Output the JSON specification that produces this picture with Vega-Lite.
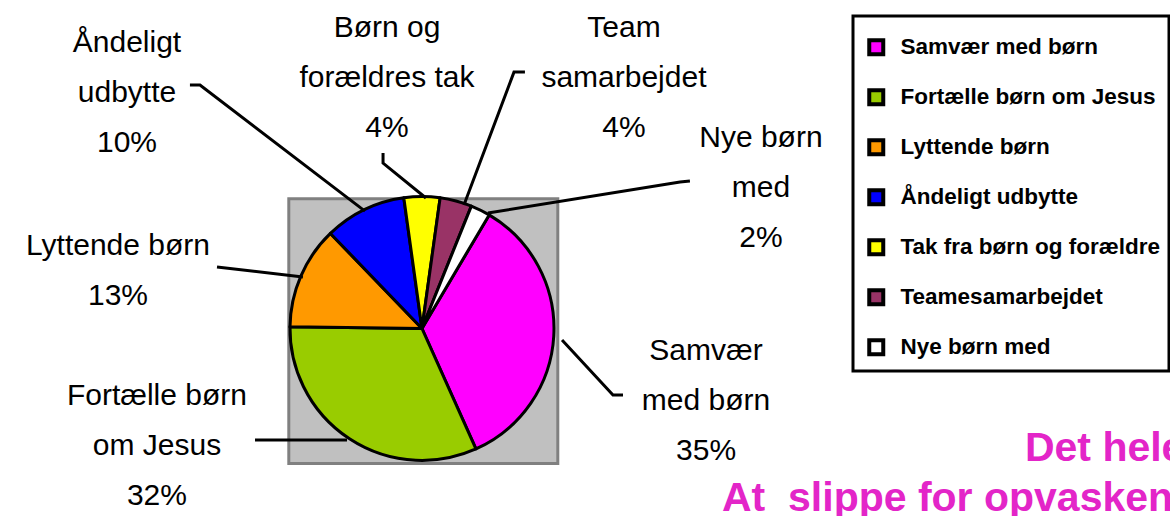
{
  "$schema": "https://vega.github.io/schema/vega-lite/v6.json",
  "autosize": "none",
  "width": 269,
  "height": 264.7,
  "padding": {"left": 288.8, "top": 198.8, "right": 612.2, "bottom": 52.5},
  "background": "white",
  "config": {
    "view": {"fill": "#C0C0C0", "stroke": "#808080", "strokeWidth": 3},
    "text": {"font": "Liberation Sans"}
  },
  "datasets": {
    "slices": [
      {"idx": 1, "category": "Samvær med børn", "share": 34.8},
      {"idx": 2, "category": "Fortælle børn om Jesus", "share": 31.9},
      {"idx": 3, "category": "Lyttende børn", "share": 12.6},
      {"idx": 4, "category": "Åndeligt udbytte", "share": 10.0},
      {"idx": 5, "category": "Tak fra børn og forældre", "share": 4.4},
      {"idx": 6, "category": "Teamesamarbejdet", "share": 3.9},
      {"idx": 7, "category": "Nye børn med", "share": 2.4}
    ],
    "labels": [
      {"text": "Samvær\nmed børn\n35%", "lx": 2.152, "ly": -0.239},
      {"text": "Fortælle børn\nom Jesus\n32%", "lx": -2.008, "ly": -0.580},
      {"text": "Lyttende børn\n13%", "lx": -2.303, "ly": 0.557},
      {"text": "Åndeligt\nudbytte\n10%", "lx": -2.235, "ly": 2.095},
      {"text": "Børn og\nforældres tak\n4%", "lx": -0.265, "ly": 2.208},
      {"text": "Team\nsamarbejdet\n4%", "lx": 1.530, "ly": 2.208},
      {"text": "Nye børn\nmed\n2%", "lx": 2.568, "ly": 1.375}
    ],
    "leaders": [
      {"leader": "Samvær", "pt": 1, "lx": 1.523, "ly": -0.504},
      {"leader": "Samvær", "pt": 2, "lx": 1.447, "ly": -0.504},
      {"leader": "Samvær", "pt": 3, "lx": 1.061, "ly": -0.087},
      {"leader": "Fortælle", "pt": 1, "lx": -1.265, "ly": -0.845},
      {"leader": "Fortælle", "pt": 2, "lx": -0.568, "ly": -0.845},
      {"leader": "Lyttende", "pt": 1, "lx": -1.553, "ly": 0.466},
      {"leader": "Lyttende", "pt": 2, "lx": -0.902, "ly": 0.390},
      {"leader": "Åndeligt", "pt": 1, "lx": -1.758, "ly": 1.845},
      {"leader": "Åndeligt", "pt": 2, "lx": -1.682, "ly": 1.845},
      {"leader": "Åndeligt", "pt": 3, "lx": -0.432, "ly": 0.890},
      {"leader": "Tak", "pt": 1, "lx": -0.295, "ly": 1.330},
      {"leader": "Tak", "pt": 2, "lx": -0.295, "ly": 1.254},
      {"leader": "Tak", "pt": 3, "lx": 0.030, "ly": 0.989},
      {"leader": "Team", "pt": 1, "lx": 0.780, "ly": 1.943},
      {"leader": "Team", "pt": 2, "lx": 0.697, "ly": 1.943},
      {"leader": "Team", "pt": 3, "lx": 0.318, "ly": 0.936},
      {"leader": "Nye", "pt": 1, "lx": 2.030, "ly": 1.117},
      {"leader": "Nye", "pt": 2, "lx": 1.955, "ly": 1.110},
      {"leader": "Nye", "pt": 3, "lx": 0.500, "ly": 0.875}
    ],
    "notes": [
      {"text": "Det hele", "lx": 4.568, "ly": -1.004},
      {"text": "At\u00a0 slippe for opvasken", "lx": 2.273, "ly": -1.383}
    ]
  },
  "layer": [
    {
      "data": {"name": "slices"},
      "mark": {"type": "arc", "radius": 132, "stroke": "black", "strokeWidth": 3, "strokeJoin": "round"},
      "encoding": {
        "x": {"datum": 0, "type": "quantitative", "scale": {"domain": [-1.009, 1.029], "nice": false, "zero": false}, "axis": null},
        "y": {"datum": 0, "type": "quantitative", "scale": {"domain": [-1.023, 0.983], "nice": false, "zero": false}, "axis": null},
        "theta": {"field": "share", "type": "quantitative", "stack": true, "scale": {"range": [0.534, 6.8172]}},
        "order": {"field": "idx", "type": "quantitative"},
        "color": {
          "field": "category",
          "type": "nominal",
          "sort": ["Samvær med børn", "Fortælle børn om Jesus", "Lyttende børn", "Åndeligt udbytte", "Tak fra børn og forældre", "Teamesamarbejdet", "Nye børn med"],
          "scale": {
            "domain": ["Samvær med børn", "Fortælle børn om Jesus", "Lyttende børn", "Åndeligt udbytte", "Tak fra børn og forældre", "Teamesamarbejdet", "Nye børn med"],
            "range": ["#FF00FF", "#99CC00", "#FF9900", "#0000FF", "#FFFF00", "#993366", "#FFFFFF"]
          },
          "legend": {
            "orient": "none",
            "legendX": 564.2,
            "legendY": -182.8,
            "title": " ",
            "titleFontSize": 8,
            "titlePadding": 4,
            "padding": 8,
            "fillColor": "white",
            "strokeColor": "black",
            "rowPadding": 19,
            "labelFont": "Liberation Sans",
            "labelFontSize": 22.5,
            "labelFontWeight": "bold",
            "labelColor": "black",
            "labelOffset": 13,
            "labelLimit": 500,
            "symbolType": "square",
            "symbolSize": 196,
            "symbolOffset": 4,
            "symbolStrokeColor": "black",
            "symbolStrokeWidth": 4,
            "symbolOpacity": 1,
            "encode": {"legend": {"update": {"stroke": {"value": "black"}, "strokeWidth": {"value": 3}}}}
          }
        }
      }
    },
    {
      "data": {"name": "leaders"},
      "mark": {"type": "line", "stroke": "black", "strokeWidth": 3, "strokeJoin": "miter", "clip": false},
      "encoding": {
        "x": {"field": "lx", "type": "quantitative", "scale": {"domain": [-1.009, 1.029], "nice": false, "zero": false}, "axis": null},
        "y": {"field": "ly", "type": "quantitative", "scale": {"domain": [-1.023, 0.983], "nice": false, "zero": false}, "axis": null},
        "detail": {"field": "leader", "type": "nominal"},
        "order": {"field": "pt", "type": "quantitative"}
      }
    },
    {
      "data": {"name": "labels"},
      "mark": {"type": "text", "align": "center", "baseline": "alphabetic", "lineBreak": "\n", "lineHeight": 50, "fontSize": 30, "font": "Liberation Sans", "color": "black", "clip": false},
      "encoding": {
        "x": {"field": "lx", "type": "quantitative", "scale": {"domain": [-1.009, 1.029], "nice": false, "zero": false}, "axis": null},
        "y": {"field": "ly", "type": "quantitative", "scale": {"domain": [-1.023, 0.983], "nice": false, "zero": false}, "axis": null},
        "text": {"field": "text", "type": "nominal"}
      }
    },
    {
      "data": {"name": "notes"},
      "mark": {"type": "text", "align": "left", "baseline": "alphabetic", "fontSize": 41, "fontWeight": "bold", "font": "Liberation Sans", "color": "#E325C8", "clip": false},
      "encoding": {
        "x": {"field": "lx", "type": "quantitative", "scale": {"domain": [-1.009, 1.029], "nice": false, "zero": false}, "axis": null},
        "y": {"field": "ly", "type": "quantitative", "scale": {"domain": [-1.023, 0.983], "nice": false, "zero": false}, "axis": null},
        "text": {"field": "text", "type": "nominal"}
      }
    }
  ]
}
